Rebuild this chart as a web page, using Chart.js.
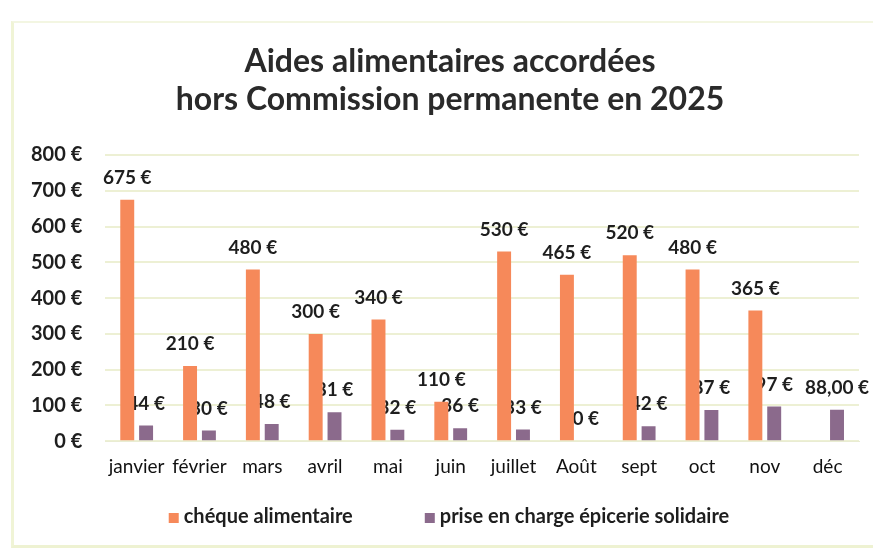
<!DOCTYPE html>
<html>
<head>
<meta charset="utf-8">
<script src="https://cdn.jsdelivr.net/npm/chart.js@4.4.1/dist/chart.umd.min.js"></script>
<style>
  html, body { margin: 0; padding: 0; background: #ffffff; }
  #wrap { position: relative; width: 873px; height: 549px; overflow: hidden; }
  #frame { position: absolute; left: 11px; top: 21px; width: 880px; height: 522px;
           border-left: 3px solid #f0f4d6; border-top: 2px solid #f3f6e2; border-bottom: 3px solid #eef2d2; }
  canvas { position: absolute; left: 0; top: 0; }
</style>
</head>
<body>
<div id="wrap">
  <div id="frame"></div>
  <canvas id="c" width="873" height="549"></canvas>
</div>
<script>
const categories = ["janvier", "février", "mars", "avril", "mai", "juin", "juillet", "Août", "sept", "oct", "nov", "déc"];
const chequeAlimentaire = [675, 210, 480, 300, 340, 110, 530, 465, 520, 480, 365, null];
const priseEnChargeEpicerie = [44, 30, 48, 81, 32, 36, 33, 0, 42, 87, 97, 88];
const chequeLabels = ["675 €", "210 €", "480 €", "300 €", "340 €", "110 €", "530 €", "465 €", "520 €", "480 €", "365 €", ""];
const epicerieLabels = ["44 €", "30 €", "48 €", "81 €", "32 €", "36 €", "33 €", "0 €", "42 €", "87 €", "97 €", "88,00 €"];
const yTicks = [0, 100, 200, 300, 400, 500, 600, 700, 800];
const seriesNames = ["chéque alimentaire", "prise en charge épicerie solidaire"];
const titleLines = ["Aides alimentaires accordées", "hors Commission permanente en 2025"];

const ORANGE = "#f6895a";
const PURPLE = "#8b6a8c";
const TEXT = "#1e1e1e";

function drawLabels(chart, dsIndex, labels) {
  const ctx = chart.ctx;
  const meta = chart.getDatasetMeta(dsIndex);
  ctx.save();
  ctx.font = "bold 19px Lato";
  ctx.fillStyle = TEXT;
  ctx.textAlign = "center";
  ctx.textBaseline = "middle";
  meta.data.forEach((bar, i) => {
    const txt = labels[i];
    if (!txt) return;
    const v = chart.data.datasets[dsIndex].data[i];
    if (v === null || v === undefined) return;
    ctx.fillText(txt, bar.x, bar.y - 22);
  });
  ctx.restore();
}

const labelPlugin = {
  id: "valueLabels",
  beforeDatasetsDraw(chart) { drawLabels(chart, 1, epicerieLabels); },
  afterDatasetsDraw(chart) { drawLabels(chart, 0, chequeLabels); }
};

// Title centred a little right of the canvas centre, as in the reference
const titlePlugin = {
  id: "customTitle",
  afterDraw(chart) {
    const ctx = chart.ctx;
    ctx.save();
    ctx.font = "bold 32px Lato";
    ctx.fillStyle = "#2a2a2a";
    ctx.textAlign = "center";
    ctx.textBaseline = "middle";
    ctx.fillText(titleLines[0], 450, 62);
    ctx.fillText(titleLines[1], 450, 100);
    ctx.restore();
  }
};

// Legend drawn below the axis with a wide gap between the two items
const legendPlugin = {
  id: "customLegend",
  afterDraw(chart) {
    const ctx = chart.ctx;
    ctx.save();
    ctx.font = "bold 20px Lato";
    ctx.textBaseline = "middle";
    ctx.textAlign = "left";
    const box = 10, gapBoxText = 5, gapItems = 72;
    const ds = chart.data.datasets;
    const widths = ds.map(d => ctx.measureText(d.label).width);
    const total = widths.reduce((a, w) => a + box + gapBoxText + w, 0) + gapItems * (ds.length - 1);
    let x = 449 - total / 2;
    const y = 517;
    ds.forEach((d, i) => {
      ctx.fillStyle = d.backgroundColor;
      ctx.fillRect(x, y - box / 2 + 1, box, box);
      x += box + gapBoxText;
      ctx.fillStyle = TEXT;
      ctx.fillText(d.label, x, y);
      x += widths[i] + gapItems;
    });
    ctx.restore();
  }
};

new Chart(document.getElementById("c"), {
  type: "bar",
  data: {
    labels: categories,
    datasets: [
      { label: seriesNames[0], data: chequeAlimentaire, backgroundColor: ORANGE,
        categoryPercentage: 0.6, barPercentage: 0.74 },
      { label: seriesNames[1], data: priseEnChargeEpicerie, backgroundColor: PURPLE,
        categoryPercentage: 0.6, barPercentage: 0.74 }
    ]
  },
  options: {
    responsive: false,
    animation: false,
    layout: { padding: { left: 8, right: 14, top: 155, bottom: 65 } },
    plugins: {
      title: { display: false },
      legend: { display: false },
      tooltip: { enabled: false }
    },
    scales: {
      x: {
        grid: { display: false },
        border: { display: true, color: "#e9ecd2" },
        ticks: { color: "#111", font: { family: "Lato", size: 19 }, maxRotation: 0, autoSkip: false, padding: 6 }
      },
      y: {
        min: 0, max: 800,
        afterBuildTicks(axis) { axis.ticks = yTicks.map(v => ({ value: v })); },
        grid: { color: "#edf0d4", lineWidth: 2, drawTicks: false },
        border: { display: false },
        ticks: { color: TEXT, font: { family: "Lato", size: 20, weight: "bold" }, padding: 23,
                 callback: v => v + " €" }
      }
    }
  },
  plugins: [labelPlugin, titlePlugin, legendPlugin]
});
</script>
</body>
</html>
